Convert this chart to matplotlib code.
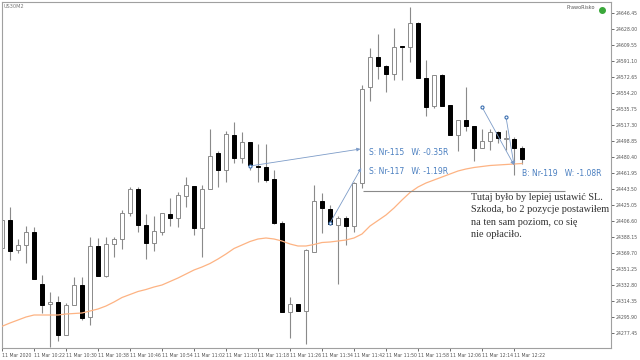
import numpy as np
import matplotlib
matplotlib.use('Agg')
import matplotlib.pyplot as plt

# US30 M2 candles, 11 Mar 2020 from 10:14, one bar every 2 minutes
opens = [24375.82, 24408.11, 24373.51, 24379.28, 24394.27, 24334.31, 24311.25, 24313.55, 24275.50, 24310.09,
         24333.16, 24296.26, 24378.13, 24343.53, 24380.43, 24386.20, 24416.18, 24443.85, 24402.34, 24381.59,
         24394.27, 24415.03, 24410.41, 24435.78, 24447.31, 24398.88, 24443.85, 24485.37, 24465.76, 24506.12,
         24479.60, 24498.05, 24470.72, 24469.22, 24455.39, 24404.65, 24302.02, 24311.25, 24303.18, 24371.21,
         24430.02, 24420.79, 24402.34, 24410.41, 24401.19, 24450.77, 24561.47, 24596.06, 24585.69, 24576.46,
         24608.75, 24607.59, 24635.27, 24571.85, 24539.56, 24575.31, 24540.71, 24506.12, 24523.42, 24516.50,
         24491.13, 24499.20, 24509.58, 24501.51, 24501.51, 24491.13]
closes = [24408.11, 24372.36, 24379.28, 24394.27, 24340.08, 24310.09, 24313.55, 24275.50, 24310.09, 24333.16,
          24295.10, 24378.13, 24343.53, 24380.43, 24386.20, 24416.18, 24443.85, 24402.34, 24381.59, 24395.42,
          24416.18, 24410.41, 24436.94, 24448.47, 24398.88, 24443.85, 24481.91, 24465.76, 24507.27, 24479.60,
          24498.05, 24471.53, 24469.57, 24454.23, 24404.65, 24302.02, 24311.25, 24303.18, 24373.51, 24430.02,
          24421.95, 24403.50, 24410.41, 24401.19, 24450.77, 24559.16, 24596.06, 24585.69, 24576.46, 24607.59,
          24607.59, 24635.27, 24571.85, 24538.41, 24575.31, 24539.56, 24506.12, 24523.42, 24516.50, 24491.13,
          24499.20, 24509.58, 24502.66, 24502.66, 24491.13, 24478.45]
highs = [24408.11, 24423.10, 24386.20, 24401.19, 24400.04, 24344.69, 24325.08, 24320.47, 24312.40, 24342.38,
         24342.38, 24388.51, 24387.35, 24388.51, 24388.51, 24419.64, 24446.16, 24446.16, 24415.03, 24412.72,
         24416.18, 24433.48, 24440.39, 24457.69, 24447.31, 24448.47, 24513.04, 24487.67, 24510.73, 24521.11,
         24509.58, 24498.05, 24495.74, 24495.74, 24465.76, 24406.95, 24319.32, 24311.25, 24374.67, 24448.47,
         24439.24, 24425.40, 24412.72, 24412.72, 24451.93, 24563.78, 24606.44, 24622.58, 24586.84, 24629.50,
         24608.75, 24653.72, 24636.42, 24592.60, 24575.31, 24576.46, 24540.71, 24523.42, 24561.47, 24516.50,
         24513.04, 24513.04, 24510.73, 24511.89, 24503.82, 24493.44]
lows = [24375.82, 24361.98, 24370.06, 24358.52, 24340.08, 24300.87, 24261.66, 24268.58, 24275.50, 24310.09,
        24292.80, 24287.03, 24343.53, 24342.38, 24365.44, 24374.67, 24412.72, 24394.27, 24363.14, 24372.36,
        24390.81, 24401.19, 24400.04, 24423.10, 24390.81, 24365.44, 24443.85, 24446.16, 24451.93, 24473.83,
        24473.83, 24465.76, 24451.93, 24451.93, 24403.50, 24302.02, 24272.04, 24303.18, 24265.12, 24371.21,
        24393.12, 24402.34, 24334.31, 24379.28, 24394.27, 24445.01, 24545.33, 24570.70, 24555.70, 24569.54,
        24569.54, 24590.30, 24571.85, 24528.03, 24537.26, 24539.56, 24506.12, 24487.67, 24510.73, 24476.14,
        24491.13, 24488.82, 24496.90, 24488.82, 24460.00, 24472.68]
# moving average (orange line)
ma = [24285.53, 24289.34, 24292.79, 24296.26, 24298.56, 24298.56, 24298.56, 24298.56, 24299.72, 24300.29,
      24300.87, 24303.18, 24305.48, 24308.94, 24313.55, 24318.74, 24322.20, 24325.66, 24327.97, 24330.85,
      24333.16, 24337.19, 24341.23, 24345.84, 24350.45, 24353.91, 24357.95, 24363.14, 24368.90, 24375.24,
      24379.28, 24383.32, 24386.20, 24387.35, 24386.20, 24383.89, 24380.43, 24378.13, 24378.13, 24379.86,
      24382.16, 24382.74, 24383.89, 24385.05, 24387.35, 24391.96, 24401.19, 24407.53, 24413.87, 24421.95,
      24431.17, 24439.82, 24446.16, 24450.77, 24454.23, 24457.69, 24461.15, 24464.61, 24466.92, 24468.65,
      24469.80, 24470.95, 24471.53, 24472.11, 24472.68, 24473.26]

# trades: (bar, price) start -> end
trade_start_x = [31, 41, 60, 63]
trade_start_y = [24470.38, 24404.65, 24538.41, 24526.88]
trade_end_x = [44.8, 44.9, 64, 64]
trade_end_y = [24489.98, 24468.07, 24471.53, 24471.53]
trade_labels = ['S: Nr-115   W: -0.35R', 'S: Nr-117   W: -1.19R', 'B: Nr-119   W: -1.08R']
label_x = [45.9, 45.9, 65.0]
label_y = [24485.4, 24464.0, 24461.7]

sl_level = 24441.55
sl_from, sl_to = 45.1, 70.4

yticks = [24646.45 - 18.45 * i for i in range(21)]
xtick_pos = list(range(0, 65, 4))
xtick_labels = ['11 Mar 2020', '11 Mar 10:22', '11 Mar 10:30', '11 Mar 10:38', '11 Mar 10:46', '11 Mar 10:54',
                '11 Mar 11:02', '11 Mar 11:10', '11 Mar 11:18', '11 Mar 11:26', '11 Mar 11:34', '11 Mar 11:42',
                '11 Mar 11:50', '11 Mar 11:58', '11 Mar 12:06', '11 Mar 12:14', '11 Mar 12:22']

note = u'Tutaj było by lepiej ustawić SL.\nSzkoda, bo 2 pozycje postawiłem\nna ten sam poziom, co się\nnie opłaciło.'

fig = plt.figure(figsize=(6.4, 3.6), dpi=100)
ax = fig.add_axes([2 / 640, 12 / 360, 609 / 640, 346 / 360])

o = np.array(opens)
c = np.array(closes)
x = np.arange(len(o))
up = c >= o

# wicks
ax.vlines(x, lows, highs, color='#8a8a8a', lw=0.8, zorder=1)
# bodies
bottoms = np.minimum(o, c)
heights = np.maximum(np.abs(c - o), 0.8)
ax.bar(x[up], heights[up], bottom=bottoms[up], width=0.6, color='white', edgecolor='#8a8a8a', lw=0.7, zorder=2)
ax.bar(x[~up], heights[~up], bottom=bottoms[~up], width=0.6, color='black', edgecolor='black', lw=0.7, zorder=2)

# moving average
ax.plot(x, ma, color='#fdb383', lw=0.9, zorder=3)

# stop loss line
ax.hlines(sl_level, sl_from, sl_to, color='#8a8a8a', lw=0.8, zorder=3)

# trades
for i in range(len(trade_start_x)):
    ax.annotate('', xy=(trade_end_x[i], trade_end_y[i]), xytext=(trade_start_x[i], trade_start_y[i]),
                arrowprops=dict(arrowstyle='-|>', color='#7d9cc8', lw=0.6, mutation_scale=5,
                                shrinkA=0, shrinkB=0), zorder=4)
    ax.plot(trade_start_x[i], trade_start_y[i], marker='o', ms=2.2, mfc='white', mec='#3b6fb0', mew=0.8, zorder=5)
for i in range(len(trade_labels)):
    ax.text(label_x[i], label_y[i], trade_labels[i], color='#4a7fc0', fontsize=5.5, va='center', ha='left',
            family='DejaVu Sans', zorder=5)

ax.text(58.6, 24439.0, note, family='Liberation Serif', fontsize=7.4, color='#333333',
        va='top', ha='left', linespacing=1.45, zorder=5)

# corner texts
ax.text(0.002, 0.995, 'US30M2', transform=ax.transAxes, fontsize=3.6, color='#777777', va='top', ha='left')
ax.text(0.973, 0.992, 'PrawoRisko', transform=ax.transAxes, fontsize=3.6, color='#555555', va='top', ha='right')
ax.plot([0.985], [0.978], transform=ax.transAxes, marker='o', ms=4, color='#3aa83a', clip_on=False)

ax.set_xlim(0, 76.125)
ax.set_ylim(24260.51, 24659.48)

ax.yaxis.tick_right()
ax.set_yticks(yticks)
ax.set_yticklabels(['%.2f' % v for v in yticks])
ax.set_xticks(xtick_pos)
ax.set_xticklabels(xtick_labels, ha='left')
ax.tick_params(axis='both', labelsize=3.3, colors='#555555', length=2, width=0.6, pad=1)
ax.tick_params(axis='x', pad=1.5)

for s in ax.spines.values():
    s.set_color('#a0a0a0')
    s.set_linewidth(0.8)

fig.savefig('out.png', dpi=100)
